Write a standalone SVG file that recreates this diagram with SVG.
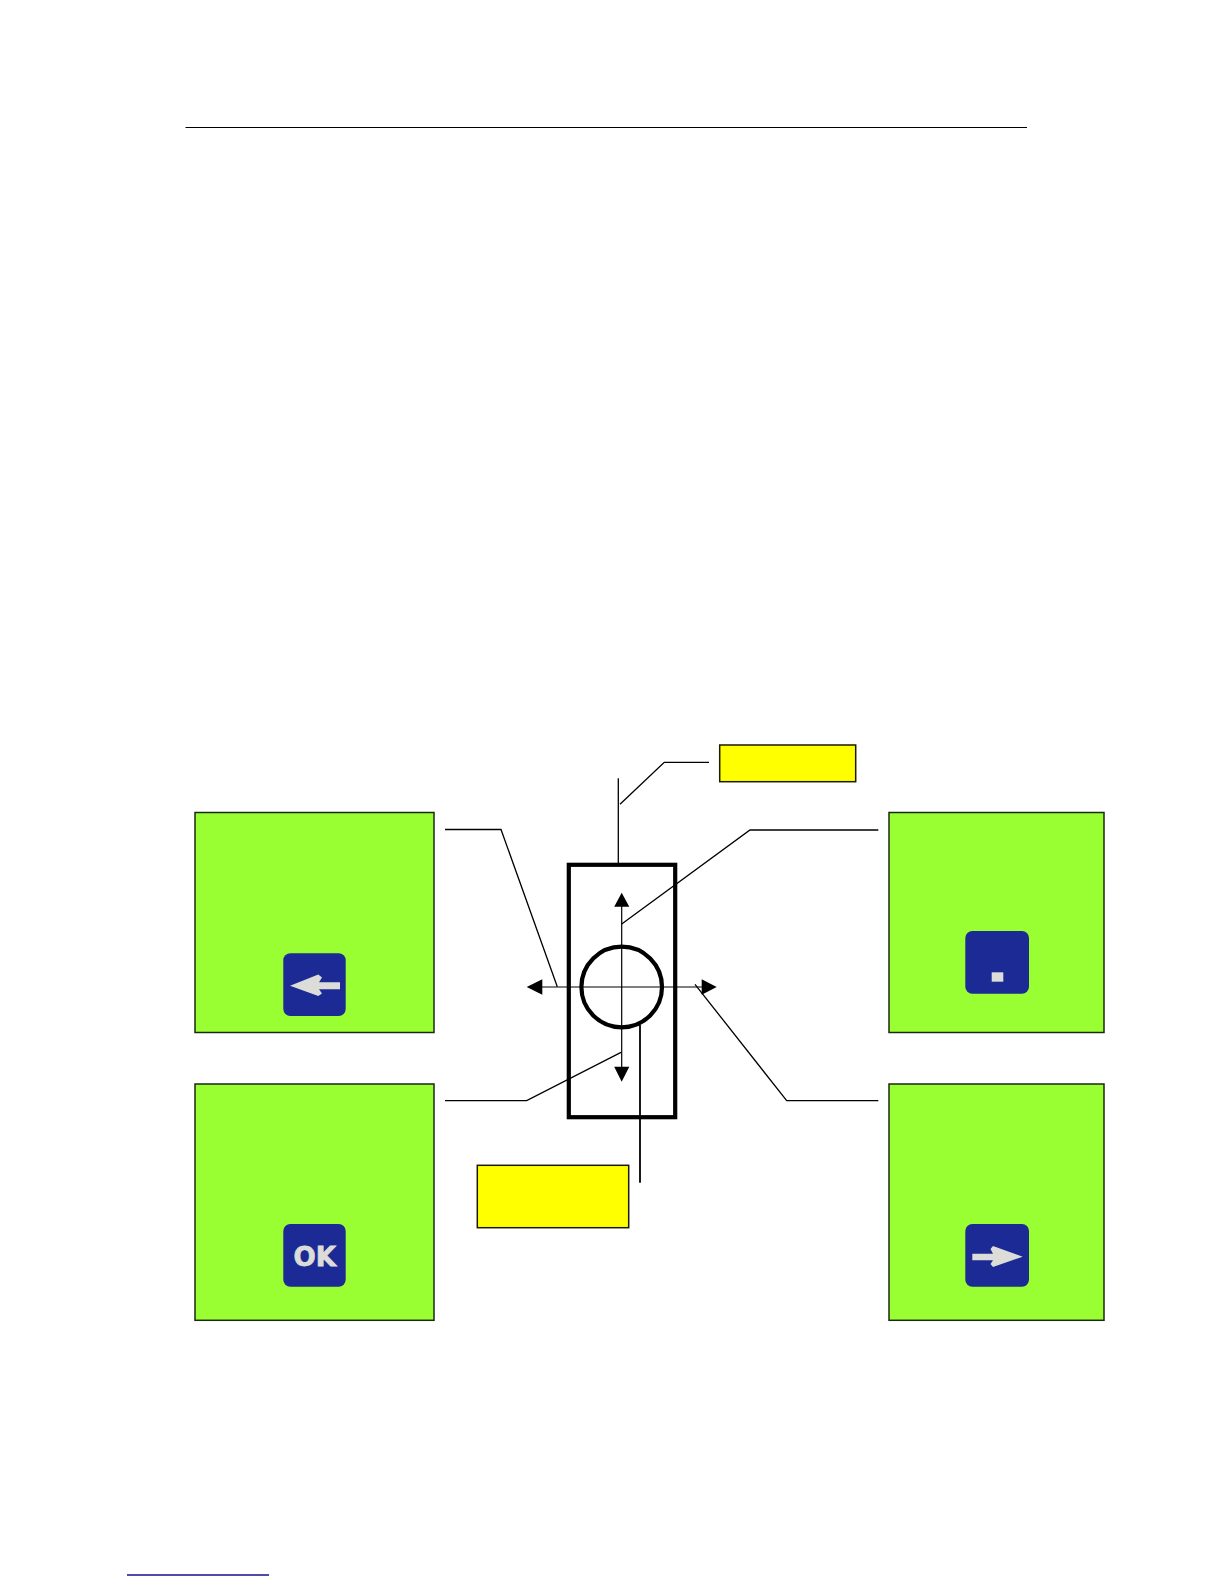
<svg xmlns="http://www.w3.org/2000/svg" width="1224" height="1584" viewBox="0 0 1224 1584">
<style>
.panel{fill:#99ff33;stroke:#1a2a10;stroke-width:1.5}
.note{fill:#ffff00;stroke:#1a1a00;stroke-width:1.5}
.key{fill:#1c2a96}
.glyph{fill:#dcdcd8}
.lead{fill:none;stroke:#000;stroke-width:1.3}
.axis{fill:none;stroke:#000;stroke-width:1.2}
.head{fill:#000}
.body{fill:none;stroke:#000;stroke-width:4.2}
</style>
<rect width="1224" height="1584" fill="#fff"/>
<g id="page-rules">
<line x1="185.5" y1="127.5" x2="1027" y2="127.5" stroke="#000" stroke-width="1.2"/>
<line x1="127" y1="1575" x2="269" y2="1575" stroke="#11118f" stroke-width="1.5"/>
</g>
<g id="panel-left">
<rect class="panel" x="195" y="812.5" width="239" height="220"/>
<rect class="key" x="283.3" y="953.3" width="62.4" height="62.7" rx="7"/>
<path class="glyph" d="M290 985.7L318.3 974.5L322 977.5L319 982.3H340V989.3H319L322 993.5L318.3 996Z"/>
</g>
<g id="panel-dot">
<rect class="panel" x="889" y="812.5" width="215" height="220"/>
<rect class="key" x="965.3" y="931" width="63.7" height="62.7" rx="7"/>
<rect class="glyph" x="991.7" y="972.3" width="11.6" height="9.4"/>
</g>
<g id="panel-ok">
<rect class="panel" x="195" y="1084" width="239" height="236.3"/>
<rect class="key" x="283.3" y="1224" width="62.4" height="62.7" rx="7"/>
<text class="glyph" x="293.5" y="1265.5" font-family="'DejaVu Sans',sans-serif" font-size="26.5" font-weight="700" textLength="42.5" lengthAdjust="spacingAndGlyphs" stroke="#dcdcd8" stroke-width="0.8">OK</text>
</g>
<g id="panel-right">
<rect class="panel" x="889" y="1084" width="215" height="236.3"/>
<rect class="key" x="965.3" y="1224" width="63.7" height="62.7" rx="7"/>
<path class="glyph" d="M1022.7 1256.7L993 1246L990.5 1249L993 1253.7H972.3V1260.3H993L990.5 1264L993 1267Z"/>
</g>
<g id="note-top"><rect class="note" x="719.7" y="745" width="136" height="36.7"/></g>
<g id="note-bottom"><rect class="note" x="477.3" y="1165.3" width="151.4" height="62.4"/></g>
<g id="device">
<rect class="body" x="568.8" y="864.8" width="106.4" height="252.4"/>
<circle class="body" cx="621.7" cy="987" r="40.3"/>
</g>
<g id="connectors">
<path class="axis" d="M621.7 906V1067M542 987H702"/>
<path class="head" d="M621.7 892.7L629.3 906.7H614.2Z"/>
<path class="head" d="M621.7 1081.7L629.3 1066.7H614.2Z"/>
<path class="head" d="M526.7 987L542.3 979.3V994.7Z"/>
<path class="head" d="M716.7 987L701.7 979.3V994.7Z"/>
<path class="lead" d="M618.3 778.3V863M620 804.3L664.3 762.3H709"/>
<path class="lead" d="M621.7 924L750 830H878.3"/>
<path class="lead" d="M557.3 986.7L501 829.5H445"/>
<path class="lead" d="M621 1052.3L526.7 1100.7H445"/>
<path class="lead" d="M695 984.3L786.7 1100.7H878.3"/>
<line x1="640" y1="1025" x2="640" y2="1182.7" stroke="#000" stroke-width="1.8"/>
</g>
</svg>
